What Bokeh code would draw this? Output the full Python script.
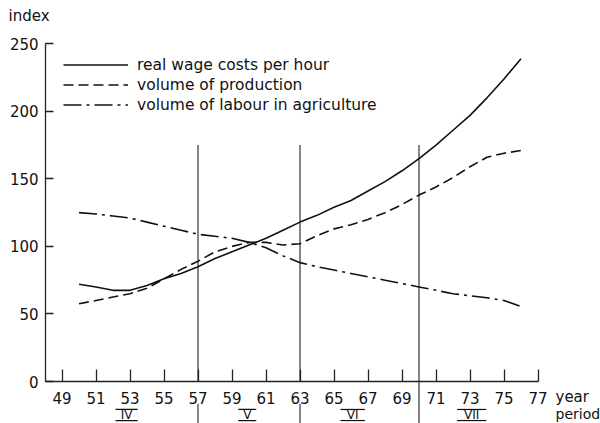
from bokeh.plotting import figure
from bokeh.models import Range1d, FixedTicker, Legend, LegendItem
from bokeh.core.properties import value
from bokeh.embed import file_html
from bokeh.resources import INLINE

# ---- data ----
years = list(range(50, 77))
wage = [72, 70, 67.5, 67.5, 71, 76, 80, 85, 91, 96, 101, 106, 112, 118, 123, 129,
        134, 141, 148, 156, 165, 175, 186, 197, 210, 224, 239]
production = [57.5, 60, 62.5, 65, 69, 76, 83, 89, 96, 100, 103, 103, 101, 102, 108,
              113, 116, 120, 125, 131, 138, 144, 151, 159, 166, 169, 171]
labour = [125, 124, 122.5, 121, 118, 115, 112, 109, 107.5, 106, 103, 99, 93, 88, 85,
          82.5, 80, 77.5, 75, 72.5, 70, 67.5, 65, 63.5, 62, 60, 55.5]
series_names = ["real wage costs per hour", "volume of production",
                "volume of labour in agriculture"]
x_ticks = list(range(49, 78, 2))
y_ticks = [0, 50, 100, 150, 200, 250]
period_bounds = [57, 63, 70]
period_top = 175
period_labels = ["IV", "V", "VI", "VII"]
period_centers = [52.8, 59.9, 66.1, 73.1]
period_half_widths = [0.65, 0.53, 0.72, 0.86]

FONT = "DejaVu Sans"
INK = "#111111"
X_AXIS_START = 48.03

p = figure(width=600, height=423, x_range=Range1d(45.382, 80.676),
           y_range=Range1d(-31.09, 282.06),
           output_backend="svg", toolbar_location=None,
           min_border=0, min_border_left=0, min_border_right=0,
           min_border_top=0, min_border_bottom=0)
p.grid.visible = False
p.outline_line_color = None
p.background_fill_color = "white"
p.border_fill_color = "white"

for ax in (p.xaxis, p.yaxis):
    ax.axis_line_color = "#222222"
    ax.axis_line_width = 1.3
    ax.major_tick_line_color = "#222222"
    ax.major_tick_line_width = 1.3
    ax.major_tick_out = 0
    ax.minor_tick_in = 0
    ax.minor_tick_out = 0
    ax.major_label_text_font = FONT
    ax.major_label_text_font_size = "15px"
    ax.major_label_text_color = INK
p.xaxis.ticker = FixedTicker(ticks=x_ticks)
p.yaxis.ticker = FixedTicker(ticks=y_ticks)
p.xaxis.fixed_location = 0
p.yaxis.fixed_location = X_AXIS_START
p.xaxis.bounds = (X_AXIS_START, 77)
p.yaxis.bounds = (0, 250)
p.xaxis.major_tick_in = 12
p.yaxis.major_tick_in = 8
p.xaxis.major_label_standoff = 10
p.yaxis.major_label_standoff = 7

# period separators (above and below the axis)
p.segment(x0=period_bounds, y0=0, x1=period_bounds, y1=period_top,
          line_color="#333333", line_width=1.2)
low_start = [-16.5 if b != 70 else 0 for b in period_bounds]
p.segment(x0=period_bounds, y0=low_start, x1=period_bounds, y1=-31,
          line_color="#333333", line_width=1.2)

# curves
r1 = p.line(years, wage, line_color=INK, line_width=1.6)
r2 = p.line(years, production, line_color=INK, line_width=1.6, line_dash="10 5")
r3 = p.line(years, labour, line_color=INK, line_width=1.6, line_dash="18 5 3 5")

legend = Legend(items=[LegendItem(label=series_names[0], renderers=[r1]),
                       LegendItem(label=series_names[1], renderers=[r2]),
                       LegendItem(label=series_names[2], renderers=[r3])],
                location=(63, 309), border_line_color=None, background_fill_alpha=0,
                margin=0, padding=0, spacing=1, glyph_width=65, glyph_height=19,
                label_height=19, label_standoff=9,
                label_text_font=FONT, label_text_font_size="15.5px", label_text_color=INK)
p.add_layout(legend)

# texts
p.text(x=[45.853], y=[270.9], text=["index"], text_font=value(FONT), text_font_size="15px",
       text_color=INK, text_baseline="middle", text_align="left")
p.text(x=[78.03], y=[-11.6], text=["year"], text_font=value(FONT), text_font_size="15px",
       text_color=INK, text_baseline="middle", text_align="left")
p.text(x=[78.03], y=[-23.7], text=["period"], text_font=value(FONT), text_font_size="14px",
       text_color=INK, text_baseline="middle", text_align="left")

# roman numerals of the periods, with over- and under-bars
p.text(x=period_centers, y=[-24.8] * 4, text=period_labels, text_font=value(FONT),
       text_font_size="12px", text_color=INK, text_baseline="middle", text_align="center")
bar_x0 = [c - w for c, w in zip(period_centers, period_half_widths)]
bar_x1 = [c + w for c, w in zip(period_centers, period_half_widths)]
p.segment(x0=bar_x0 * 2, y0=[-20.7] * 4 + [-28.9] * 4, x1=bar_x1 * 2,
          y1=[-20.7] * 4 + [-28.9] * 4, line_color=INK, line_width=1.2)

open("out.html", "w").write(file_html(p, INLINE))
